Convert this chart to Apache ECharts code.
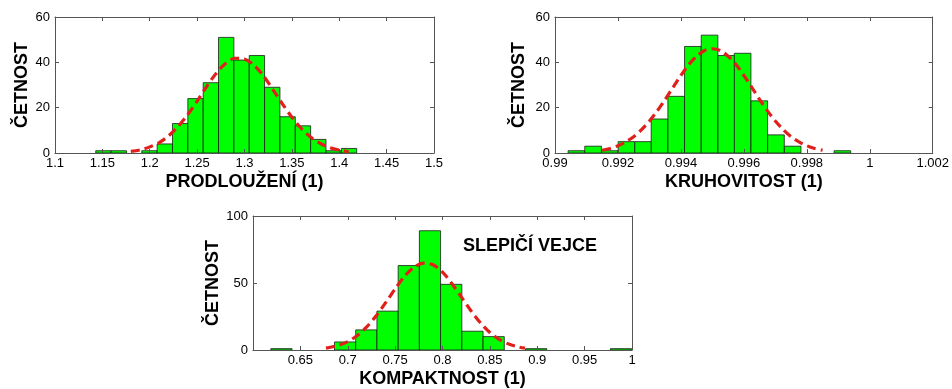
<!DOCTYPE html>
<html><head><meta charset="utf-8">
<script src="https://cdn.jsdelivr.net/npm/echarts@6/dist/echarts.min.js"></script>
<style>html,body{margin:0;padding:0;background:#fff}#c{width:952px;height:389px}</style>
</head><body><div id="c"></div>
<script>
// ---------- DATA ----------
// Chart 1: PRODLOUŽENÍ
const prodCenters = [1.1511, 1.1673, 1.1835, 1.1997, 1.2159, 1.2321, 1.2483, 1.2645, 1.2807, 1.2969, 1.3131, 1.3293, 1.3455, 1.3617, 1.3779, 1.3941, 1.4103];
const prodCounts  = [1, 1, 0, 1, 4, 13, 24, 31, 51, 41, 43, 29, 16, 12, 6, 1, 2];
const prodBinWidth = 0.0162;
const prodFitX = [1.18, 1.19, 1.20, 1.21, 1.22, 1.23, 1.24, 1.25, 1.26, 1.27, 1.28, 1.29, 1.30, 1.31, 1.32, 1.33, 1.34, 1.35, 1.36, 1.37, 1.38, 1.39, 1.40, 1.41];
const prodFitY = [0.7, 1.4, 2.7, 4.6, 7.6, 11.7, 16.9, 22.9, 29.3, 35.1, 39.5, 41.8, 41.5, 38.8, 34.0, 28.0, 21.7, 15.8, 10.8, 6.9, 4.2, 2.4, 1.3, 0.6];

// Chart 2: KRUHOVITOST
const kruhCenters = [0.99068, 0.99121, 0.99174, 0.99227, 0.99280, 0.99332, 0.99385, 0.99438, 0.99491, 0.99544, 0.99596, 0.99649, 0.99702, 0.99755, 0.99808, 0.99860, 0.99913];
const kruhCounts  = [1, 3, 1, 5, 5, 15, 25, 47, 52, 43, 44, 23, 8, 3, 0, 0, 1];
const kruhBinWidth = 0.000528;
const kruhFitX = [0.9915, 0.99175, 0.992, 0.99225, 0.9925, 0.99275, 0.993, 0.99325, 0.9935, 0.99375, 0.994, 0.99425, 0.9945, 0.99475, 0.995, 0.99525, 0.9955, 0.99575, 0.996, 0.99625, 0.9965, 0.99675, 0.997, 0.99725, 0.9975, 0.99775, 0.998, 0.99825, 0.9985];
const kruhFitY = [1.2, 2.0, 3.2, 4.9, 7.2, 10.3, 14.1, 18.6, 23.6, 29.0, 34.2, 39.0, 42.7, 45.2, 46.0, 45.2, 42.7, 39.0, 34.2, 29.0, 23.6, 18.6, 14.1, 10.3, 7.2, 4.9, 3.2, 2.0, 1.2];

// Chart 3: KOMPAKTNOST
const kompCenters = [0.6300, 0.6524, 0.6748, 0.6972, 0.7196, 0.7420, 0.7644, 0.7868, 0.8092, 0.8316, 0.8540, 0.8764, 0.8988, 0.9212, 0.9436, 0.9660, 0.9884];
const kompCounts  = [1, 0, 0, 6, 15, 29, 63, 89, 49, 14, 10, 0, 1, 0, 0, 0, 1];
const kompBinWidth = 0.0224;
const kompFitX = [0.677, 0.69, 0.70, 0.71, 0.72, 0.73, 0.74, 0.75, 0.76, 0.77, 0.78, 0.79, 0.80, 0.81, 0.82, 0.83, 0.84, 0.85, 0.86, 0.87, 0.88, 0.887];
const kompFitY = [1.4, 3.5, 6.3, 10.8, 17.2, 25.5, 35.3, 45.6, 55.0, 61.8, 64.9, 63.6, 58.1, 49.5, 39.4, 29.3, 20.3, 13.1, 7.9, 4.4, 2.3, 1.4];

// Axis settings
const xRanges = [[1.1, 1.5, 0.05], [0.99, 1.002, 0.002], [0.6, 1.0, 0.05]];
const yRanges = [[0, 60, 20], [0, 60, 20], [0, 100, 50]];
const xNames = ['PRODLOUŽENÍ (1)', 'KRUHOVITOST (1)', 'KOMPAKTNOST (1)'];
const yName = 'ČETNOST';
const annotation = 'SLEPIČÍ VEJCE';

// ---------- CHART ----------
const FONT = '"Liberation Sans", Arial, Helvetica, sans-serif';
const AX = '#555';
const chart = echarts.init(document.getElementById('c'), null, {renderer: 'canvas'});

const grids = [
  {left: 55, top: 17, width: 379, height: 136},
  {left: 555, top: 17, width: 380, height: 136},
  {left: 253, top: 216, width: 379, height: 137}
];
const yNameGaps = [24, 27, 31];

const xAxis = [], yAxis = [], series = [];
for (let i = 0; i < 3; i++) {
  const [xmin, xmax, xint] = xRanges[i];
  xAxis.push({
    gridIndex: i, type: 'value', min: xmin, max: xmax, interval: xint, position: 'bottom', z: 5,
    axisLine: {show: true, onZero: false, lineStyle: {color: AX, width: 1}},
    axisTick: {show: true, inside: true, length: 4, lineStyle: {color: AX}},
    splitLine: {show: false},
    axisLabel: {color: '#000', fontSize: 13, fontFamily: FONT, margin: 4, showMinLabel: i !== 2},
    name: xNames[i], nameLocation: 'middle', nameGap: 20,
    nameTextStyle: {color: '#000', fontSize: 18, fontWeight: 'bold', fontFamily: FONT}
  });
}
for (let i = 0; i < 3; i++) {
  const [xmin, xmax, xint] = xRanges[i];
  xAxis.push({
    gridIndex: i, type: 'value', min: xmin, max: xmax, interval: xint, position: 'top', z: 5,
    axisLine: {show: true, onZero: false, lineStyle: {color: AX, width: 1}},
    axisTick: {show: true, inside: true, length: 4, lineStyle: {color: AX}},
    splitLine: {show: false}, axisLabel: {show: false}
  });
}
for (let i = 0; i < 3; i++) {
  const [ymin, ymax, yint] = yRanges[i];
  yAxis.push({
    gridIndex: i, type: 'value', min: ymin, max: ymax, interval: yint, position: 'left', z: 5,
    axisLine: {show: true, onZero: false, lineStyle: {color: AX, width: 1}},
    axisTick: {show: true, inside: true, length: 4, lineStyle: {color: AX}},
    splitLine: {show: false},
    axisLabel: {color: '#000', fontSize: 13, fontFamily: FONT, margin: 5},
    name: yName, nameLocation: 'middle', nameGap: yNameGaps[i], nameRotate: 90,
    nameTextStyle: {color: '#000', fontSize: 18, fontWeight: 'bold', fontFamily: FONT}
  });
}
for (let i = 0; i < 3; i++) {
  const [ymin, ymax, yint] = yRanges[i];
  yAxis.push({
    gridIndex: i, type: 'value', min: ymin, max: ymax, interval: yint, position: 'right', z: 5,
    axisLine: {show: true, onZero: false, lineStyle: {color: AX, width: 1}},
    axisTick: {show: true, inside: true, length: 4, lineStyle: {color: AX}},
    splitLine: {show: false}, axisLabel: {show: false}
  });
}

const hists = [
  [prodCenters, prodCounts, prodBinWidth, prodFitX, prodFitY],
  [kruhCenters, kruhCounts, kruhBinWidth, kruhFitX, kruhFitY],
  [kompCenters, kompCounts, kompBinWidth, kompFitX, kompFitY]
];
hists.forEach(([centers, counts, bw, fx, fy], i) => {
  series.push({
    type: 'custom', xAxisIndex: i, yAxisIndex: i, z: 2, clip: true,
    data: centers.map((c, k) => [c, counts[k]]),
    renderItem: function (params, api) {
      const c = api.value(0), n = api.value(1);
      if (!n) return null;
      const p0 = api.coord([c - bw / 2, 0]);
      const p1 = api.coord([c + bw / 2, n]);
      return {
        type: 'rect',
        shape: {x: p0[0], y: p1[1], width: p1[0] - p0[0], height: p0[1] - p1[1]},
        style: {fill: '#00ff00', stroke: '#1a1a1a', lineWidth: 0.8}
      };
    }
  });
  series.push({
    type: 'line', xAxisIndex: i, yAxisIndex: i, z: 4, symbol: 'none', smooth: 0.3,
    data: fx.map((x, k) => [x, fy[k]]),
    lineStyle: {color: '#e0201b', width: 3.2, type: [9, 5]}
  });
});

chart.setOption({
  animation: false,
  backgroundColor: '#fff',
  grid: grids,
  xAxis: xAxis,
  yAxis: yAxis,
  series: series,
  graphic: [{
    type: 'text', left: 463, top: 237,
    style: {text: annotation, fill: '#000', font: 'bold 18px ' + FONT}
  }]
});
</script>
</body></html>
